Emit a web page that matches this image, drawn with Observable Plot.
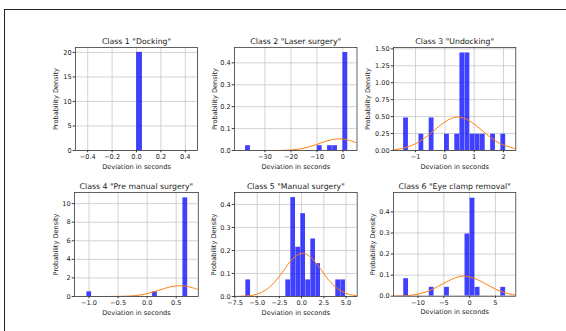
<!DOCTYPE html>
<html><head><meta charset="utf-8">
<script src="https://cdn.jsdelivr.net/npm/d3@7"></script>
<script src="https://cdn.jsdelivr.net/npm/@observablehq/plot@0.6"></script>
<style>
body{margin:0;background:#fff;}
#fig{position:relative;width:566px;height:331px;overflow:hidden;background:#fff;font-family:"DejaVu Sans",sans-serif;}
#border{position:absolute;left:4px;top:9px;right:-3px;bottom:-3px;border-top:1px solid #222;border-left:1px solid #222;}
.panel{position:absolute;}
</style></head><body><div id="fig"><div id="border"></div></div>
<script>
// ---- data ----
const titles = ['Class 1 "Docking"', 'Class 2 "Laser surgery"', 'Class 3 "Undocking"',
                'Class 4 "Pre manual surgery"', 'Class 5 "Manual surgery"', 'Class 6 "Eye clamp removal"'];
const xLabel = "Deviation in seconds";
const yLabel = "Probability Density";

// histogram bins: left edge, right edge, density
const p1Left = [0.0], p1Right = [0.05], p1Density = [20];
const p2Left = [-37.5, -9.92, -5.98, -4.01, -0.07];
const p2Right = [-35.53, -7.95, -4.01, -2.04, 1.9];
const p2Density = [0.022, 0.022, 0.022, 0.022, 0.447];
const p3Left = [-1.41, -0.887, -0.538, -0.014, 0.335, 0.510, 0.684, 0.858, 1.033, 1.207, 1.557, 1.905];
const p3Right = [-1.236, -0.712, -0.363, 0.161, 0.510, 0.684, 0.858, 1.033, 1.207, 1.382, 1.731, 2.08];
const p3Density = [0.48, 0.24, 0.48, 0.24, 0.24, 1.44, 1.44, 0.24, 0.24, 0.24, 0.24, 0.24];
const p4Left = [-1.04, 0.091, 0.613], p4Right = [-0.953, 0.178, 0.70], p4Density = [0.5, 0.5, 10.62];
const p5Left = [-6.29, -1.794, -1.232, -0.67, -0.108, 0.454, 1.016, 1.578, 3.826, 4.388];
const p5Right = [-5.728, -1.232, -0.67, -0.108, 0.454, 1.016, 1.578, 2.14, 4.388, 4.95];
const p5Density = [0.072, 0.072, 0.43, 0.214, 0.36, 0.072, 0.25, 0.143, 0.072, 0.072];
const p6Left = [-12.8, -7.85, -4.88, -0.92, 0.07, 1.06, 6.01];
const p6Right = [-11.81, -6.86, -3.89, 0.07, 1.06, 2.05, 7.0];
const p6Density = [0.083, 0.042, 0.042, 0.295, 0.465, 0.042, 0.042];

// fitted normal curves
const p2CurveX = [-41.7, -30, -25, -20, -15, -10, -6, -3, -1.5, 0, 2.5, 5.4];
const p2CurveY = [0, 0.0001, 0.0004, 0.0025, 0.0105, 0.028, 0.0444, 0.052, 0.0532, 0.052, 0.046, 0.0348];
const p3CurveX = [-1.75, -1.4, -1.0, -0.6, -0.2, 0.2, 0.45, 0.7, 1.1, 1.5, 1.9, 2.42];
const p3CurveY = [0.012, 0.036, 0.099, 0.212, 0.357, 0.47, 0.493, 0.47, 0.357, 0.212, 0.099, 0.026];
const p4CurveX = [-1.25, -0.8, -0.6, -0.4, -0.2, 0, 0.2, 0.4, 0.56, 0.7, 0.88];
const p4CurveY = [0, 0.0006, 0.004, 0.024, 0.10, 0.31, 0.67, 1.04, 1.16, 1.07, 0.75];
const p5CurveX = [-7.55, -6, -5, -4, -3, -2, -1, 0.11, 1, 2, 3, 4, 5, 6.25];
const p5CurveY = [0.0003, 0.003, 0.010, 0.029, 0.064, 0.114, 0.164, 0.188, 0.172, 0.126, 0.074, 0.035, 0.013, 0.003];
const p6CurveX = [-14.75, -12, -10, -8, -6, -4, -2, -1.07, 0, 2, 4, 6, 8, 8.95];
const p6CurveY = [0.0005, 0.0032, 0.0099, 0.024, 0.048, 0.074, 0.093, 0.095, 0.092, 0.073, 0.046, 0.023, 0.0092, 0.0055];

// tick values
const p1XTicks = [-0.4, -0.2, 0, 0.2, 0.4], p1YTicks = [0, 5, 10, 15, 20];
const p2XTicks = [-30, -20, -10, 0], p2YTicks = [0, 0.1, 0.2, 0.3, 0.4];
const p3XTicks = [-1, 0, 1, 2], p3YTicks = [0, 0.25, 0.5, 0.75, 1.0, 1.25, 1.5];
const p4XTicks = [-1.0, -0.5, 0, 0.5], p4YTicks = [0, 2, 4, 6, 8, 10];
const p5XTicks = [-7.5, -5, -2.5, 0, 2.5, 5], p5YTicks = [0, 0.1, 0.2, 0.3, 0.4];
const p6XTicks = [-10, -5, 0, 5], p6YTicks = [0, 0.1, 0.2, 0.3, 0.4];

// ---- layout ----
const zip = (l, r, h) => l.map((v, i) => ({x1: v, x2: r[i], h: h[i]}));
const pts = (xs, ys) => xs.map((v, i) => ({x: v, y: ys[i]}));

const panels = [
  {title: titles[0], bins: zip(p1Left, p1Right, p1Density), curve: [], xd: [-0.5, 0.5], yd: [0, 21],
   xt: p1XTicks, yt: p1YTicks, xf: ".1f", yf: "d", box: [75, 197, 47, 150], yoff: 20},
  {title: titles[1], bins: zip(p2Left, p2Right, p2Density), curve: pts(p2CurveX, p2CurveY), xd: [-41.7, 5.4], yd: [0, 0.47],
   xt: p2XTicks, yt: p2YTicks, xf: "d", yf: ".1f", box: [233.5, 356, 47, 150], yoff: 20},
  {title: titles[2], bins: zip(p3Left, p3Right, p3Density), curve: pts(p3CurveX, p3CurveY), xd: [-1.75, 2.42], yd: [0, 1.52],
   xt: p3XTicks, yt: p3YTicks, xf: "d", yf: ".2f", box: [392.7, 515, 47, 150], yoff: 25.7},
  {title: titles[3], bins: zip(p4Left, p4Right, p4Density), curve: pts(p4CurveX, p4CurveY), xd: [-1.25, 0.88], yd: [0, 11.2],
   xt: p4XTicks, yt: p4YTicks, xf: ".1f", yf: "d", box: [73.5, 197.3, 192, 296], yoff: 18.5},
  {title: titles[4], bins: zip(p5Left, p5Right, p5Density), curve: pts(p5CurveX, p5CurveY), xd: [-7.55, 6.25], yd: [0, 0.452],
   xt: p5XTicks, yt: p5YTicks, xf: ".1f", yf: ".1f", box: [234, 356.7, 192, 296], yoff: 20.2},
  {title: titles[5], bins: zip(p6Left, p6Right, p6Density), curve: pts(p6CurveX, p6CurveY), xd: [-14.75, 8.95], yd: [0, 0.492],
   xt: p6XTicks, yt: p6YTicks, xf: "d", yf: ".1f", box: [392.7, 515, 192.3, 296], yoff: 20.4}
];

const fig = document.getElementById("fig");
const ml = 45, mr = 8, mt = 22, mb = 28;
const ink = "#222";
for (const p of panels) {
  const [L, R, T, B] = p.box;
  const w = R - L, h = B - T;
  const chart = Plot.plot({
    width: ml + w + mr, height: mt + h + mb,
    marginLeft: ml, marginRight: mr, marginTop: mt, marginBottom: mb,
    style: {fontFamily: "DejaVu Sans", fontSize: "6.6px", background: "transparent", color: ink, overflow: "visible"},
    x: {domain: p.xd},
    y: {domain: p.yd},
    marks: [
      Plot.gridX(p.xt, {stroke: "#c8c8c8", strokeOpacity: 1, strokeWidth: 0.8}),
      Plot.gridY(p.yt, {stroke: "#c8c8c8", strokeOpacity: 1, strokeWidth: 0.8}),
      Plot.rectY(p.bins, {x1: "x1", x2: "x2", y: "h", fill: "#0000ff", fillOpacity: 0.75, insetLeft: 0.15, insetRight: 0.15, clip: true}),
      Plot.line(p.curve, {x: "x", y: "y", stroke: "#ff7f0e", strokeWidth: 1, curve: "catmull-rom", clip: true}),
      Plot.frame({stroke: "#3a3a3a", strokeWidth: 0.8}),
      Plot.axisX(p.xt, {tickSize: 2.3, tickPadding: 2, tickFormat: p.xf, label: null, fontSize: 6.6, stroke: "#3a3a3a", fill: ink}),
      Plot.axisY(p.yt, {tickSize: 2.3, tickPadding: 1.5, tickFormat: p.yf, label: null, fontSize: 6.6, stroke: "#3a3a3a", fill: ink}),
      Plot.text([p.title], {frameAnchor: "top", dy: -6.3, lineAnchor: "middle", textAnchor: "middle", fontSize: 7.8, fill: ink}),
      Plot.text([xLabel], {frameAnchor: "bottom", dy: 16, lineAnchor: "middle", textAnchor: "middle", fontSize: 6.6, fill: ink}),
      Plot.text([yLabel], {frameAnchor: "left", dx: -p.yoff, rotate: -90, lineAnchor: "middle", textAnchor: "middle", fontSize: 6.6, fill: ink})
    ]
  });
  const div = document.createElement("div");
  div.className = "panel";
  div.style.left = (L - ml) + "px";
  div.style.top = (T - mt) + "px";
  div.appendChild(chart);
  fig.appendChild(div);
}
</script>
</body></html>
